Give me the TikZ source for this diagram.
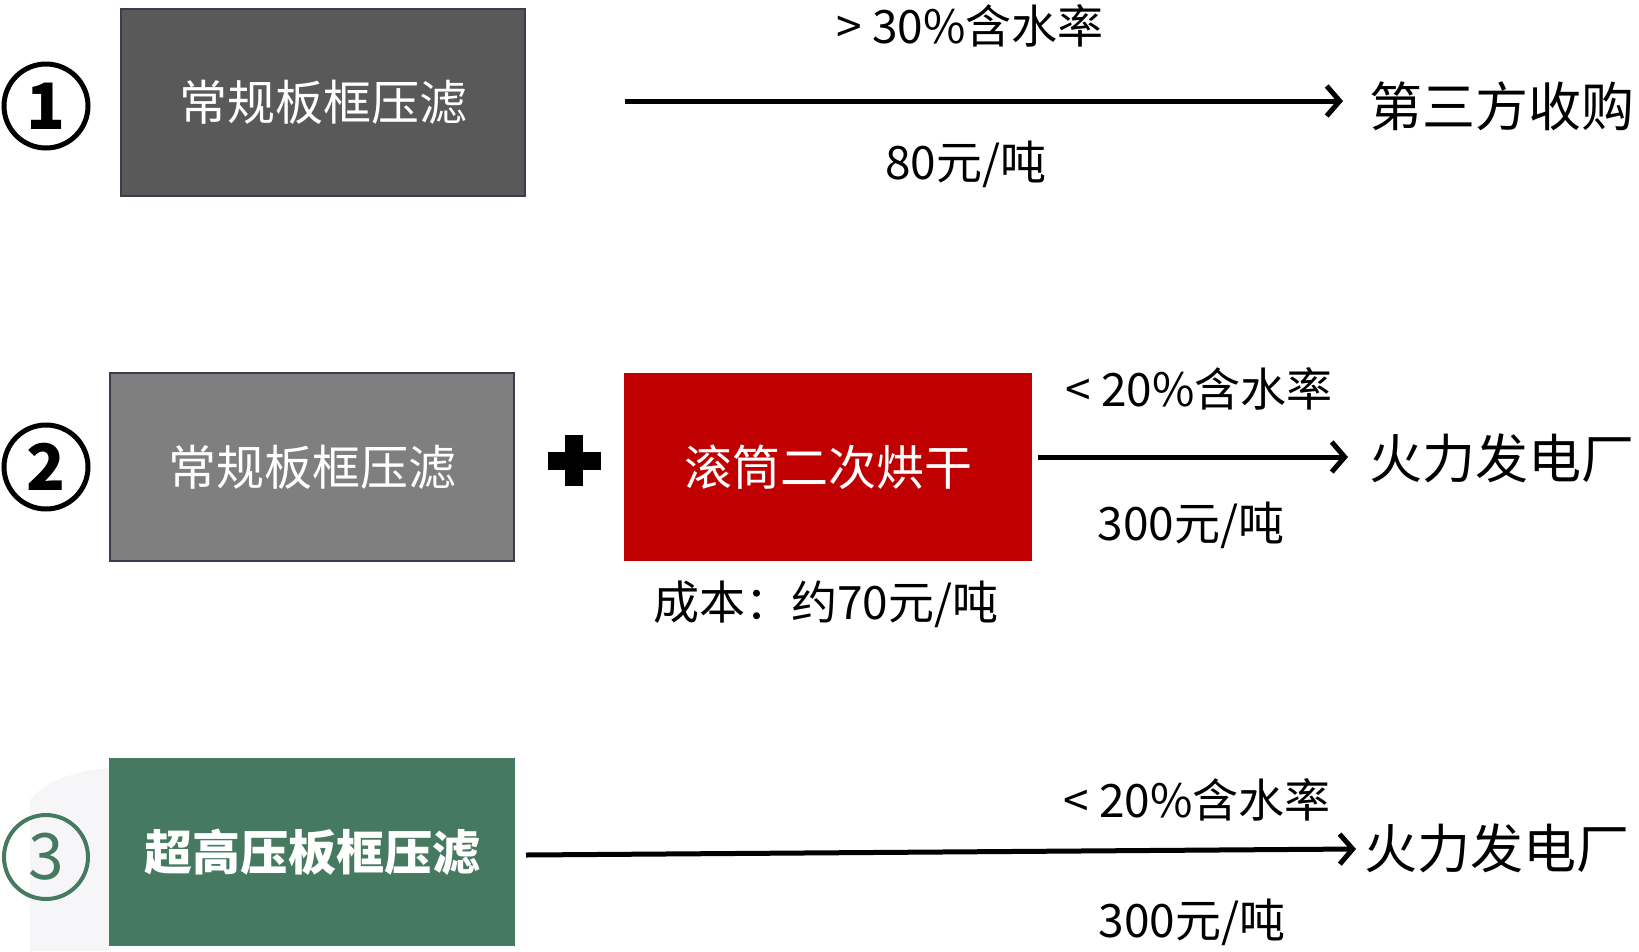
\documentclass[tikz,border=0pt]{standalone}
\usepackage{fontspec}
\setmainfont{Noto Sans CJK SC}
\usetikzlibrary{arrows.meta}
\definecolor{boxA}{HTML}{595959}
\definecolor{boxB}{HTML}{7F7F7F}
\definecolor{edgeC}{HTML}{3C3C4C}
\definecolor{redC}{HTML}{C00000}
\definecolor{greenC}{HTML}{457A61}
\definecolor{fadeC}{HTML}{F6F6F9}
\tikzset{
  procbox/.style={minimum width=#1, minimum height=188pt, inner sep=0pt, text=white, font=\fontsize{48}{52}\selectfont},
  numcirc/.style={circle, draw, line width=5pt, minimum size=84pt, inner sep=0pt, font=\fontsize{64}{64}\selectfont\bfseries},
  flow/.style={line width=5pt, -{Straight Barb[length=13pt, width=30pt, line width=5pt]}},
  lbl/.style={font=\fontsize{46}{50}\selectfont, inner sep=0pt},
  dest/.style={font=\fontsize{53}{58}\selectfont, inner sep=0pt, anchor=west},
}
\begin{document}
\begin{tikzpicture}[x=1pt, y=-1pt]
\useasboundingbox (0,0) rectangle (1639,951);
% faint background near 3
\fill[fadeC] (30,951) -- (30,800) .. controls (45,780) and (80,770) .. (109,768) -- (109,951) -- cycle;

% row 1
\node[numcirc] (n1) at (46,106) {1};
\node[procbox=404pt, minimum height=187pt, fill=boxA, draw=edgeC, line width=2pt] (b1) at (323,102) {常规板框压滤};
\coordinate (a1s) at (625,101);
\coordinate (a1e) at (1343,101);
\draw[flow] (a1s) -- (a1e);
\node[lbl] (t1a) at (970,26) {> 30\%含水率};
\node[lbl] (t1b) at (966,164) {80元/吨};
\node[dest] (d1) at (1369,106) {第三方收购};

% row 2
\node[numcirc] (n2) at (46,467) {2};
\node[procbox=404pt, fill=boxB, draw=edgeC, line width=2pt] (b2) at (312,467) {常规板框压滤};
\fill (565,435) rectangle (583,486);
\fill (548,452) rectangle (601,470);
\coordinate (plus) at (574,461);
\node[procbox=408pt, fill=redC] (r2) at (828,467) {滚筒二次烘干};
\node[lbl] (c2) at (826,604) {成本：约70元/吨};
\coordinate (a2s) at (1038,457);
\coordinate (a2e) at (1348,457);
\draw[flow] (a2s) -- (a2e);
\node[lbl] (t2a) at (1199,389) {< 20\%含水率};
\node[lbl] (t2b) at (1191,525) {300元/吨};
\node[dest] (d2) at (1369,458) {火力发电厂};

% row 3
\node[numcirc, draw=greenC, text=greenC, line width=4pt, font=\fontsize{64}{64}\selectfont] (n3) at (46,857) {3};
\node[procbox=406pt, fill=greenC, font=\fontsize{48}{52}\selectfont\bfseries] (b3) at (312,852) {超高压板框压滤};
\coordinate (a3s) at (526,855);
\coordinate (a3e) at (1356,849);
\draw[flow] (a3s) -- (a3e);
\node[lbl] (t3a) at (1197,800) {< 20\%含水率};
\node[lbl] (t3b) at (1192,922) {300元/吨};
\node[dest] (d3) at (1364,848) {火力发电厂};
\end{tikzpicture}
\end{document}
